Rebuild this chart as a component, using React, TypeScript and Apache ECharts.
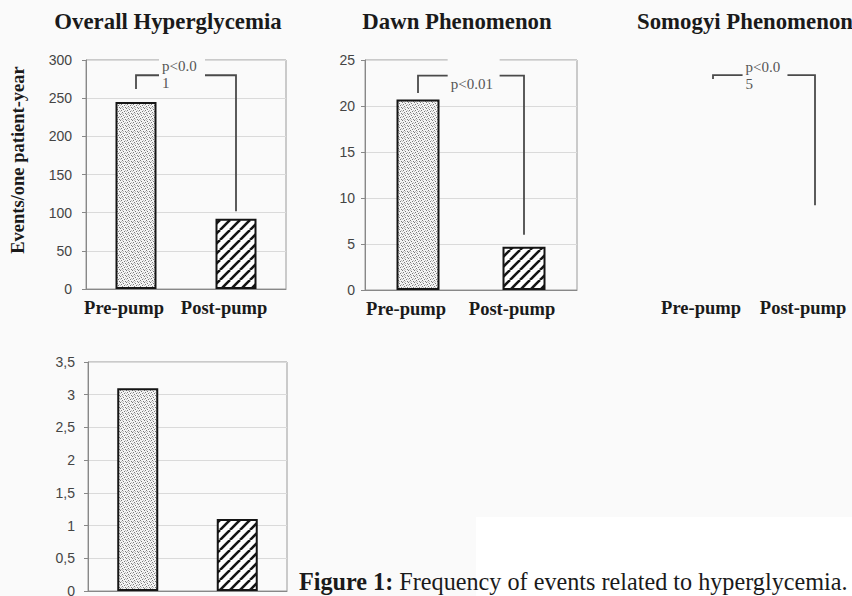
import React, { useEffect, useRef } from 'react';
import * as echarts from 'echarts';

const categories = ['Pre-pump', 'Post-pump'];
const panelTitles = ['Overall Hyperglycemia', 'Dawn Phenomenon', 'Somogyi Phenomenon'];
const overallValues = [245, 92];
const dawnValues = [20.7, 4.7];
const somogyiValues = [3.1, 1.1];
// bracket: [left end, top, right end] in each panel's value units
const overallBracket = [262, 280, 102];
const dawnBracket = [21.4, 23.3, 6.0];
const somogyiBracket = [3.21, 3.27, 1.28];
const pLabels = ['p<0.0\n1', 'p<0.01', 'p<0.0\n5'];
const overallAxis = [0, 300, 50];
const dawnAxis = [0, 25, 5];
const somogyiAxis = [0, 3.5, 0.5];
const yAxisName = 'Events/one patient-year';
const captionBold = 'Figure 1:';
const captionText = ' Frequency of events related to hyperglycemia.';

const BG = '#fafafa';
const SERIF = 'Liberation Serif';
const SANS = 'Liberation Sans';

function makeDots() {
  const c = document.createElement('canvas');
  c.width = 6;
  c.height = 6;
  const g = c.getContext('2d')!;
  g.fillStyle = '#f4f4f4';
  g.fillRect(0, 0, 6, 6);
  const dark: number[][] = [[0, 0], [3, 1], [1, 2], [4, 3], [2, 4], [5, 5]];
  g.fillStyle = '#7a7a7a';
  dark.forEach(([x, y]) => g.fillRect(x, y, 1, 1));
  g.fillStyle = '#c0c0c0';
  [[2, 0], [5, 2], [1, 5], [0, 3], [3, 5]].forEach(([x, y]) => g.fillRect(x, y, 1, 1));
  return c;
}

function makeHatch() {
  const s = 10;
  const c = document.createElement('canvas');
  c.width = s;
  c.height = s;
  const g = c.getContext('2d')!;
  g.fillStyle = '#ffffff';
  g.fillRect(0, 0, s, s);
  g.strokeStyle = '#151515';
  g.lineWidth = 2.6;
  for (const o of [-s, 0, s]) {
    g.beginPath();
    g.moveTo(o, s);
    g.lineTo(o + s, 0);
    g.stroke();
  }
  return c;
}

export default function App() {
  const ref = useRef<HTMLDivElement>(null);
  useEffect(() => {
    if (!ref.current) return;
    const chart = echarts.init(ref.current, undefined, { renderer: 'svg' });
    const dots = { image: makeDots(), repeat: 'repeat' };
    const hatch = { image: makeHatch(), repeat: 'repeat' };

    const gridsPos = [
      { left: 86, top: 60, width: 200, height: 229 },
      { left: 365, top: 60, width: 212, height: 230 },
      { left: 662, top: 60, width: 204, height: 229 },
      { left: 88, top: 362, width: 199, height: 229 },
    ];
    const axisRanges = [overallAxis, dawnAxis, somogyiAxis, somogyiAxis];
    const labelMargins = [14, 10, 12, 13];
    const boxFrac = [
      [0.23, 0.69, -18],
      [0.28, 0.77, 0],
      [0.29, 0.73, -17],
    ];

    const grid = gridsPos.map((p, i) => ({
      ...p,
      show: i !== 2,
      outerBoundsMode: 'none',
      containLabel: false,
      borderColor: '#9a9a9a',
      borderWidth: 1,
      backgroundColor: 'transparent',
    }));

    const xAxis = gridsPos.map((_, i) => ({
      type: 'category',
      gridIndex: i,
      data: categories,
      axisLine: { show: i !== 2, lineStyle: { color: '#888', width: 1 } },
      axisTick: { show: false },
      splitLine: { show: false },
      axisLabel: {
        show: i !== 3,
        interval: 0,
        hideOverlap: false,
        fontFamily: SERIF,
        fontWeight: 'bold',
        fontSize: 18.5,
        color: '#1a1a1a',
        margin: 9,
        padding: [0, 24, 0, 0],
      },
    }));

    const yAxis = gridsPos.map((_, i) => ({
      type: 'value',
      gridIndex: i,
      show: i !== 2,
      min: axisRanges[i][0],
      max: axisRanges[i][1],
      interval: axisRanges[i][2],
      axisLine: { show: true, lineStyle: { color: '#888', width: 1 } },
      axisTick: { show: true, length: 4, lineStyle: { color: '#888' } },
      splitLine: { show: true, lineStyle: { color: '#dadada', width: 1 } },
      axisLabel: {
        fontFamily: SANS,
        fontSize: 14,
        color: '#444',
        margin: labelMargins[i],
        formatter: (v: number) => String(v).replace('.', ','),
      },
    }));

    const barSeries = (idx: number, values: number[], w: number) => ({
      type: 'bar',
      xAxisIndex: idx,
      yAxisIndex: idx,
      barWidth: w,
      z: 2,
      data: values.map((v, k) => ({
        value: v,
        itemStyle: {
          color: k === 0 ? dots : hatch,
          borderColor: '#151515',
          borderWidth: 2,
        },
      })),
    });

    const bracketSeries = (idx: number, br: number[], label: string) => ({
      type: 'custom',
      xAxisIndex: idx,
      yAxisIndex: idx,
      z: 3,
      clip: false,
      encode: { x: 0, y: [1, 2, 3] },
      data: [[0, br[0], br[1], br[2]]],
      renderItem: (params: any, api: any) => {
        const cs = params.coordSys;
        const pL = api.coord([0, api.value(1)]);
        const pT0 = api.coord([0, api.value(2)]);
        const pT1 = api.coord([1, api.value(2)]);
        const pR = api.coord([1, api.value(3)]);
        const span = pT1[0] - pT0[0];
        const [fL, fR, dy] = boxFrac[idx];
        const bx = pT0[0] + fL * span;
        const bw = (fR - fL) * span;
        const by = cs.y - 4;
        const bh = pT0[1] + 18 - by;
        return {
          type: 'group',
          children: [
            {
              type: 'polyline',
              shape: { points: [pL, pT0, pT1, pR] },
              style: { stroke: '#4a4a4a', lineWidth: 1.8, fill: 'none' },
            },
            {
              type: 'rect',
              shape: { x: bx, y: by, width: bw, height: bh },
              style: { fill: BG },
            },
            {
              type: 'text',
              x: bx + 3,
              y: pT0[1] + dy,
              style: {
                text: label,
                font: `15px ${SERIF}`,
                fill: '#555',
                lineHeight: 17,
                align: 'left',
                verticalAlign: 'top',
              },
            },
          ],
        };
      },
    });

    const titleX = [168, 457, 745];

    chart.setOption({
      animation: false,
      backgroundColor: BG,
      grid,
      xAxis,
      yAxis,
      series: [
        barSeries(0, overallValues, 41),
        barSeries(1, dawnValues, 43),
        barSeries(3, somogyiValues, 41),
        bracketSeries(0, overallBracket, pLabels[0]),
        bracketSeries(1, dawnBracket, pLabels[1]),
        bracketSeries(2, somogyiBracket, pLabels[2]),
      ],
      graphic: [
        {
          type: 'rect',
          z: -10,
          shape: { x: 476, y: 517, width: 376, height: 79 },
          style: { fill: '#ffffff' },
        },
        ...panelTitles.map((t, i) => ({
          type: 'text',
          x: titleX[i],
          y: 21,
          style: {
            text: t,
            font: `bold 22.8px ${SERIF}`,
            fill: '#1a1a1a',
            align: 'center',
            verticalAlign: 'middle',
          },
        })),
        {
          type: 'text',
          x: 18,
          y: 160,
          rotation: Math.PI / 2,
          style: {
            text: yAxisName,
            font: `bold 18.5px ${SERIF}`,
            fill: '#1a1a1a',
            align: 'center',
            verticalAlign: 'middle',
          },
        },
        {
          type: 'text',
          x: 299,
          y: 581,
          style: {
            text: `{b|${captionBold}}${captionText}`,
            font: `24.2px ${SERIF}`,
            fill: '#1a1a1a',
            verticalAlign: 'middle',
            rich: {
              b: { fontWeight: 'bold', fontSize: 24.2, fontFamily: SERIF, fill: '#1a1a1a' },
            },
          },
        },
      ],
    });
    return () => chart.dispose();
  }, []);
  return (
    <div
      ref={ref}
      style={{ position: 'absolute', left: 0, top: 0, width: 852, height: 596 }}
    />
  );
}
